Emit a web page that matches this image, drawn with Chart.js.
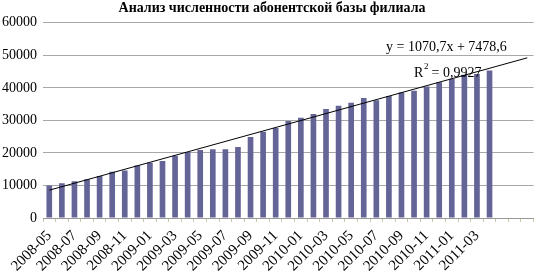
<!DOCTYPE html>
<html>
<head>
<meta charset="utf-8">
<script src="https://cdn.jsdelivr.net/npm/chart.js@4/dist/chart.umd.min.js"></script>
<style>
  body { margin: 0; background: #fff; }
</style>
</head>
<body>
<canvas id="abonChart" width="545" height="279"></canvas>
<script>
// months 2008-05 .. 2011-04, plus 3 empty slots for the trend forecast
var months = ["2008-05", "2008-06", "2008-07", "2008-08", "2008-09", "2008-10", "2008-11", "2008-12",
    "2009-01", "2009-02", "2009-03", "2009-04", "2009-05", "2009-06", "2009-07", "2009-08",
    "2009-09", "2009-10", "2009-11", "2009-12", "2010-01", "2010-02", "2010-03", "2010-04",
    "2010-05", "2010-06", "2010-07", "2010-08", "2010-09", "2010-10", "2010-11", "2010-12",
    "2011-01", "2011-02", "2011-03", "2011-04", "", "", ""];

var subscribers = [10000, 10700, 11300, 11900, 12900, 14200, 14600, 16100, 17000, 17500,
    19100, 20300, 20900, 21100, 21100, 21800, 24900, 26500, 27700, 29800,
    30800, 32000, 33500, 34500, 35400, 36900, 36200, 37500, 38600, 39100,
    40400, 41700, 42700, 44000, 44300, 45300];

// linear trend y = 1070,7x + 7478,6, from x=1 to x=39 (forecast 3 periods)
var trend = [8549, null, null, null, null, null, null, null, null, null,
    null, null, null, null, null, null, null, null, null, null,
    null, null, null, null, null, null, null, null, null, null,
    null, null, null, null, null, null, null, null, 49236];

var yTicks = [0, 10000, 20000, 30000, 40000, 50000, 60000];

var serif = "'Liberation Serif', 'Times New Roman', serif";

var trendLabel = {
    id: 'trendLabel',
    afterDraw: function(chart) {
        var ctx = chart.ctx;
        ctx.save();
        ctx.fillStyle = '#000';
        ctx.textBaseline = 'alphabetic';
        ctx.font = '14px ' + serif;
        ctx.textAlign = 'left';
        ctx.fillText('y = 1070,7x + 7478,6', 386, 51);
        ctx.fillText('R', 414, 77);
        ctx.font = '9px ' + serif;
        ctx.fillText('2', 424, 69);
        ctx.font = '14px ' + serif;
        ctx.fillText(' = 0,9927', 428, 77);
        ctx.restore();
    }
};

var ctx = document.getElementById('abonChart').getContext('2d');
var chart = new Chart(ctx, {
    data: {
        labels: months,
        datasets: [{
            type: 'line',
            label: 'Тренд',
            data: trend,
            spanGaps: true,
            borderColor: '#000',
            borderWidth: 1,
            pointRadius: 0,
            order: 0
        }, {
            type: 'bar',
            label: 'Абоненты',
            data: subscribers,
            backgroundColor: '#646496',
            barPercentage: 0.45,
            categoryPercentage: 1,
            order: 1
        }]
    },
    options: {
        responsive: false,
        animation: false,
        layout: { padding: { top: 0, right: 1, left: 0, bottom: 0 } },
        plugins: {
            legend: { display: false },
            tooltip: { enabled: false },
            title: {
                display: true,
                text: 'Анализ численности абонентской базы филиала',
                color: '#000',
                font: { family: serif, size: 14, weight: 'bold' },
                padding: { top: 0, bottom: 6 }
            }
        },
        scales: {
            x: {
                offset: true,
                grid: {
                    offset: true,
                    drawOnChartArea: false,
                    tickLength: 4,
                    color: '#c8c8a8'
                },
                border: { color: '#999' },
                ticks: {
                    autoSkip: false,
                    maxRotation: 45,
                    minRotation: 45,
                    color: '#000',
                    padding: 5,
                    font: { family: serif, size: 15 },
                    callback: function(val, i) {
                        return i % 2 === 0 ? months[i] : '';
                    }
                },
                afterFit: function(scale) { scale.height = 61; }
            },
            y: {
                min: 0,
                max: 60000,
                afterBuildTicks: function(scale) {
                    scale.ticks = yTicks.map(function(v) { return { value: v }; });
                },
                grid: { color: '#a8a8a8', drawTicks: false },
                border: { display: false },
                ticks: {
                    color: '#000',
                    padding: 6,
                    font: { family: serif, size: 14 },
                    callback: function(val) { return String(val); }
                },
                afterFit: function(scale) { scale.width = 43; }
            }
        }
    },
    plugins: [trendLabel]
});
</script>
</body>
</html>
